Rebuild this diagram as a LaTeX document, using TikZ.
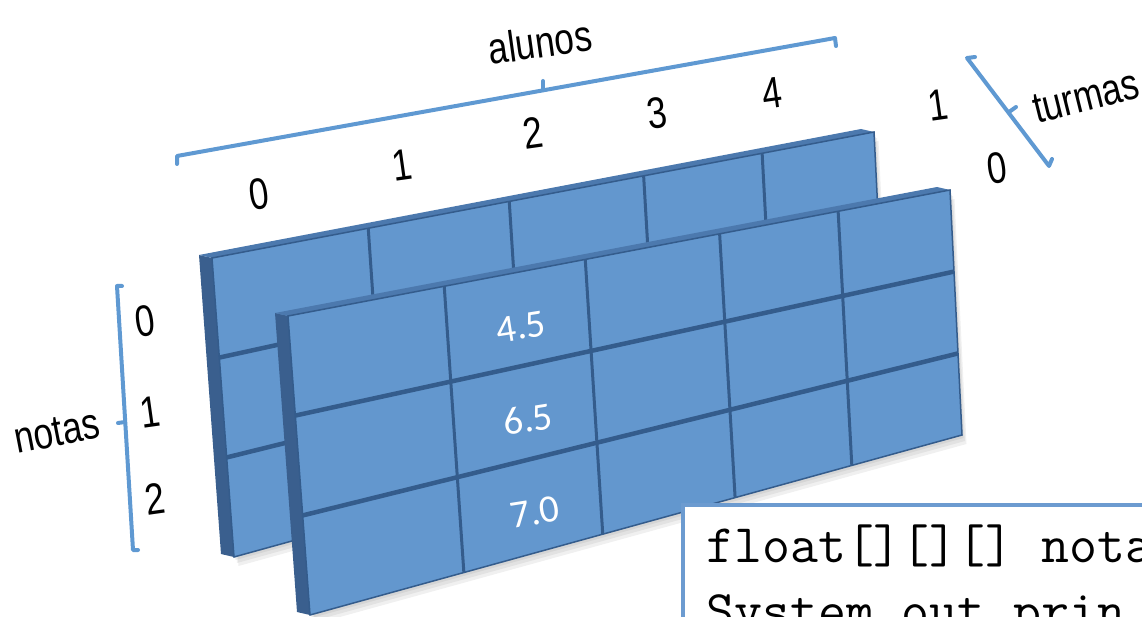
\documentclass[tikz,border=0pt]{standalone}
\usepackage{fontspec}
\setmainfont{Liberation Sans}
\newfontfamily\cellfont{Carlito}
\usetikzlibrary{calc}
\definecolor{facefill}{RGB}{99,151,206}
\definecolor{sidefill}{RGB}{58,95,142}
\definecolor{topfill}{RGB}{76,121,174}
\definecolor{gridline}{RGB}{52,92,140}
\definecolor{bracecol}{RGB}{95,153,210}
\definecolor{codeborder}{RGB}{108,155,208}
\tikzset{
    brace/.style={bracecol, line width=4pt, line cap=round, line join=round},
    axislabel/.style={font=\fontsize{44}{44}\selectfont, inner sep=0pt, rotate=#1, xscale=0.8},
    axislabel/.default=8,
    cellvalue/.style={font=\cellfont\fontsize{39}{39}\selectfont, text=white, inner sep=0pt, rotate=9},
    codetext/.style={font=\ttfamily\fontsize{54.3}{66}\selectfont, inner sep=0pt, anchor=base west}
}
\begin{document}
\begin{tikzpicture}[x=1pt, y=-1pt]
    \useasboundingbox (0,0) rectangle (1142,617);
    \clip (0,0) rectangle (1142,617);
    % back slab (turma 1) and front slab (turma 0)
    \foreach \dx/\dy in {-76/-58, 0/0}{
        \begin{scope}[shift={(\dx,\dy)}]
            \coordinate (tl) at (288,316);
            \coordinate (tr) at (950,190);
            \coordinate (br) at (962,435);
            \coordinate (bl) at (310,615);
            \foreach \s in {3,6,9}
                \fill
                    [black, opacity=0.06] ($(tl)+(\s/2,\s)$) -- ($(tr)+(\s/2,\s)$) -- ($(br)+(\s/2,\s)$) -- ($(bl)+(\s/2,\s)$) -- cycle;
            \fill
                [sidefill] (tl) -- (bl) -- ($(bl)+(-13,-3)$) -- ($(tl)+(-13,-3)$) -- cycle;
            \fill
                [topfill] (tl) -- (tr) -- ($(tr)+(-13,-3)$) -- ($(tl)+(-13,-3)$) -- cycle;
            \draw
                [gridline, line width=1.5pt, fill=facefill] (tl) -- (tr) -- (br) -- (bl) -- cycle;
            \foreach \u in {0.236,0.449,0.652,0.831}
                \draw
                    [gridline, line width=3pt] ($(tl)!\u!(tr)$) -- ($(bl)!\u!(br)$);
            \foreach \v in {0.333,0.667}
                \draw
                    [gridline, line width=4.5pt] ($(tl)!\v!(bl)$) -- ($(tr)!\v!(br)$);
        \end{scope}
    }
    % values in the front slab
    \node[cellvalue] (v0) at (521,327) {4.5};
    \node[cellvalue] (v1) at (528,419) {6.5};
    \node[cellvalue] (v2) at (535,512) {7.0};
    % alunos
    \draw
        [brace] (177,164) -- (177,156) -- (835,38) -- (836,46);
    \draw
        [brace] (543,90) -- (543,81);
    \node[axislabel=8] (alunos) at (540,42) {alunos};
    \node[axislabel] (a0) at (259,194) {0};
    \node[axislabel] (a1) at (402,165) {1};
    \node[axislabel] (a2) at (533,133) {2};
    \node[axislabel] (a3) at (657,113) {3};
    \node[axislabel] (a4) at (772,93) {4};
    % turmas
    \draw
        [brace] (975,57) -- (967,58) -- (1049,166) -- (1052,159);
    \draw
        [brace] (1009,112) -- (1016,107);
    \node[axislabel=14] (turmas) at (1086,97) {turmas};
    \node[axislabel] (t1) at (938,105) {1};
    \node[axislabel] (t0) at (997,168) {0};
    % notas
    \draw
        [brace] (122,286) -- (117,286) -- (133,550) -- (138,550);
    \draw
        [brace] (125,422) -- (118,423);
    \node[axislabel=11] (notas) at (57,432) {notas};
    \node[axislabel] (n0) at (145,321) {0};
    \node[axislabel] (n1) at (150,412) {1};
    \node[axislabel] (n2) at (155,499) {2};
    % code box
    \draw
        [codeborder, line width=4pt, fill=white] (683,505) rectangle (1170,660);
    \node[codetext] (code1) at (706,562) {float[][][] nota};
    \node[codetext] (code2) at (706,628) {System.out.prin};
\end{tikzpicture}
\end{document}
